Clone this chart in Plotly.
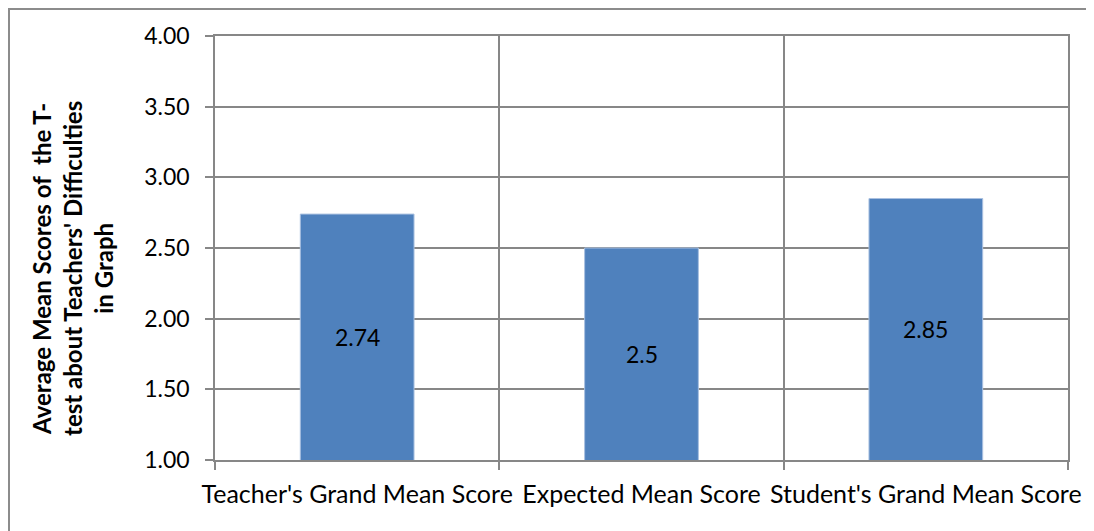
import plotly.graph_objects as go

categories = ["Teacher's Grand Mean Score", "Expected Mean Score", "Student's Grand Mean Score"]
values = [2.74, 2.5, 2.85]
labels = ["2.74", "2.5", "2.85"]
y_ticks = [1.0, 1.5, 2.0, 2.5, 3.0, 3.5, 4.0]
y_tick_text = ["1.00", "1.50", "2.00", "2.50", "3.00", "3.50", "4.00"]
y_title = "<b>Average Mean Scores of  the T-<br>test about Teachers' Difficulties<br>in Graph</b>"
y_min, y_max = 1.0, 4.0

FONT = "Lato"
GRID = "#878787"

fig = go.Figure(go.Bar(
    x=categories, y=values,
    marker=dict(color="#4F81BD", line=dict(color="#A9C0E0", width=1)),
    width=0.4, hoverinfo="x+y",
))

# data labels centred in the visible part of each bar
for c, v, t in zip(categories, values, labels):
    fig.add_annotation(x=c, y=(y_min + v) / 2, text=t, showarrow=False,
                       font=dict(family=FONT, size=23, color="black"))

fig.update_layout(
    width=1086, height=523,
    margin=dict(l=207, r=26, t=28, b=71, autoexpand=False),
    paper_bgcolor="white", plot_bgcolor="white",
    showlegend=False,
    font=dict(family=FONT, size=23, color="black"),
    xaxis=dict(
        type="category", tickson="boundaries", tickangle=0, automargin=False,
        showgrid=True, gridcolor=GRID, gridwidth=1.5,
        ticks="outside", ticklen=8, tickcolor=GRID, tickwidth=1.5,
        showline=True, linecolor=GRID, linewidth=1.5, mirror=True,
        tickfont=dict(family=FONT, size=25), ticklabelstandoff=11,
    ),
    yaxis=dict(
        range=[y_min, y_max], tickvals=y_ticks, ticktext=y_tick_text,
        automargin=False,
        showgrid=True, gridcolor=GRID, gridwidth=1.5,
        ticks="outside", ticklen=8, tickcolor=GRID, tickwidth=1.5,
        showline=True, linecolor=GRID, linewidth=1.5, mirror=True,
        tickfont=dict(family=FONT, size=23), zeroline=False,
        ticklabelstandoff=11,
    ),
)

# y-axis title as rotated annotation
fig.add_annotation(
    text=y_title, textangle=-90, xref="paper", yref="paper",
    x=-0.1665, y=0.453, xanchor="center", yanchor="middle", showarrow=False,
    font=dict(family=FONT, size=24, color="black"), align="center",
)

# outer chart border
fig.add_shape(type="rect", xref="paper", yref="paper",
              x0=-0.2415, y0=-0.3, x1=1.2, y1=1.0637,
              line=dict(color="#8C8C8C", width=2), fillcolor="rgba(0,0,0,0)", layer="below")

fig.write_html("out.html")
